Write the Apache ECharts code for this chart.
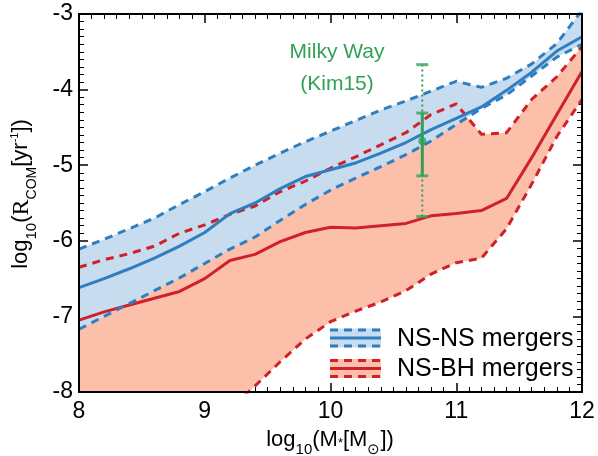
<!DOCTYPE html>
<html>
<head>
<meta charset="utf-8">
<script src="https://cdn.jsdelivr.net/npm/echarts@6/dist/echarts.min.js"></script>
<style>html,body{margin:0;padding:0;background:#fff;}#c{width:598px;height:456px;}</style>
</head>
<body>
<div id="c"></div>
<script>
// ---- data ----
var logMass = [8.0, 8.2, 8.4, 8.6, 8.8, 9.0, 9.2, 9.4, 9.6, 9.8, 10.0, 10.2, 10.4, 10.6, 10.8, 11.0, 11.2, 11.4, 11.6, 11.8, 12.0];
var nsnsUpper  = [-6.11, -5.98, -5.84, -5.70, -5.52, -5.35, -5.17, -5.00, -4.84, -4.69, -4.55, -4.41, -4.27, -4.15, -4.02, -3.89, -3.97, -3.85, -3.66, -3.39, -2.95];
var nsnsMedian = [-6.62, -6.50, -6.37, -6.23, -6.07, -5.89, -5.64, -5.50, -5.31, -5.15, -5.06, -4.97, -4.84, -4.70, -4.53, -4.38, -4.23, -4.01, -3.77, -3.49, -3.30];
var nsnsLower  = [-7.17, -7.00, -6.83, -6.66, -6.49, -6.30, -6.11, -5.95, -5.73, -5.52, -5.33, -5.17, -5.02, -4.86, -4.68, -4.46, -4.25, -4.07, -3.82, -3.57, -3.40];
var nsbhUpper  = [-6.35, -6.25, -6.17, -6.07, -5.90, -5.79, -5.65, -5.54, -5.35, -5.21, -5.04, -4.89, -4.73, -4.57, -4.33, -4.19, -4.59, -4.57, -4.13, -3.83, -3.43];
var nsbhMedian = [-7.05, -6.94, -6.85, -6.76, -6.67, -6.50, -6.26, -6.18, -6.01, -5.89, -5.82, -5.83, -5.80, -5.77, -5.67, -5.64, -5.60, -5.44, -4.90, -4.33, -3.76];
var nsbhLower  = [-10.3, -9.9, -9.5, -9.1, -8.8, -8.5, -8.22, -7.92, -7.60, -7.30, -7.07, -6.93, -6.81, -6.66, -6.44, -6.29, -6.23, -5.84, -5.25, -4.62, -4.13];
// Milky Way (Kim15) estimate
var mwMass = 10.73;
var mwRate = -4.68;
var mwErr = [-5.14, -4.31];
var mwRange = [-5.68, -3.67];
var xTicks = [8, 12, 1];
var yTicks = [-8, -3, 1];

// ---- styling ----
var FONT = '"Liberation Sans", Arial, Helvetica, sans-serif';
var BLUE = '#2f7ec0', BLUE_FILL = '#c8dcef';
var RED = '#d0202a', RED_FILL = '#fcc0aa';
var GREEN = '#33a155';

function pairs(xs, ys) { return xs.map(function (x, i) { return [x, ys[i]]; }); }

function bandSeries(lower, upper, fill) {
  return {
    type: 'custom', clip: true, silent: true, z: 1, animation: false,
    data: logMass.map(function (x, i) { return [x, lower[i], upper[i]]; }),
    encode: { x: 0, y: [1, 2] },
    renderItem: function (params, api) {
      if (params.dataIndex !== 0) return null;
      var pts = [], i;
      for (i = 0; i < logMass.length; i++) pts.push(api.coord([logMass[i], upper[i]]));
      for (i = logMass.length - 1; i >= 0; i--) pts.push(api.coord([logMass[i], lower[i]]));
      var cs = params.coordSys;
      return {
        type: 'polygon',
        shape: { points: pts },
        style: { fill: fill, stroke: null },
        clipPath: { type: 'rect', shape: { x: cs.x, y: cs.y, width: cs.width, height: cs.height } }
      };
    }
  };
}
function lineSeries(ys, color, dashed, z) {
  return { type: 'line', data: pairs(logMass, ys), symbol: 'none', z: z || 3, animation: false, silent: true,
    lineStyle: { color: color, width: 3, type: dashed ? [8, 6] : 'solid', cap: 'butt', join: 'round' } };
}

function xAxisCfg(pos, showLabel) {
  return { type: 'value', position: pos, min: xTicks[0], max: xTicks[1], interval: xTicks[2],
    axisLine: { show: false }, splitLine: { show: false },
    axisTick: { inside: true, length: 9, lineStyle: { color: '#000', width: 1.5 } },
    minorTick: { show: true, splitNumber: 10, length: 5, lineStyle: { color: '#000', width: 1 } },
    axisLabel: { show: showLabel, color: '#000', fontSize: 23, fontFamily: FONT, margin: 8 } };
}
function yAxisCfg(pos, showLabel) {
  return { type: 'value', position: pos, min: yTicks[0], max: yTicks[1], interval: yTicks[2],
    axisLine: { show: false }, splitLine: { show: false },
    axisTick: { inside: true, length: 9, lineStyle: { color: '#000', width: 1.5 } },
    minorTick: { show: true, splitNumber: 10, length: 5, lineStyle: { color: '#000', width: 1 } },
    axisLabel: { show: showLabel, color: '#000', fontSize: 23, fontFamily: FONT, margin: 6 } };
}

var series = [
  bandSeries(nsbhLower, nsbhUpper, RED_FILL),
  bandSeries(nsnsLower, nsnsUpper, BLUE_FILL),
  lineSeries(nsbhLower, RED, true),
  lineSeries(nsbhUpper, RED, true),
  lineSeries(nsbhMedian, RED, false),
  lineSeries(nsnsLower, BLUE, true),
  lineSeries(nsnsUpper, BLUE, true),
  lineSeries(nsnsMedian, BLUE, false),
  { type: 'line', data: [[mwMass, mwRange[0]], [mwMass, mwRange[1]]], symbol: 'none', z: 5, animation: false, silent: true,
    lineStyle: { color: GREEN, width: 2, type: [2, 3] } },
  { type: 'line', data: [[mwMass, mwErr[0]], [mwMass, mwErr[1]]], symbol: 'none', z: 5, animation: false, silent: true,
    lineStyle: { color: GREEN, width: 3 } },
  { type: 'scatter', data: [[mwMass, mwRange[0]], [mwMass, mwRange[1]], [mwMass, mwErr[0]], [mwMass, mwErr[1]]],
    symbol: 'rect', symbolSize: [12, 3], itemStyle: { color: GREEN }, z: 6, animation: false, silent: true },
  { type: 'scatter', data: [[mwMass, mwRate]], symbol: 'circle', symbolSize: 8, itemStyle: { color: GREEN }, z: 6, animation: false, silent: true }
];

function legendItem(y, color, fill, label) {
  var x0 = 330, x1 = 381, h = 19;
  return [
    { type: 'rect', shape: { x: x0, y: y - h / 2, width: x1 - x0, height: h }, style: { fill: fill }, z: 20 },
    { type: 'line', shape: { x1: x0, y1: y - h / 2 + 1.5, x2: x1, y2: y - h / 2 + 1.5 }, style: { stroke: color, lineWidth: 3, lineDash: [8, 6] }, z: 21 },
    { type: 'line', shape: { x1: x0, y1: y + h / 2 - 1.5, x2: x1, y2: y + h / 2 - 1.5 }, style: { stroke: color, lineWidth: 3, lineDash: [8, 6] }, z: 21 },
    { type: 'line', shape: { x1: x0, y1: y, x2: x1, y2: y }, style: { stroke: color, lineWidth: 3 }, z: 21 },
    { type: 'text', x: 397, y: y + 1, style: { text: label, fill: '#000', fontSize: 25, fontFamily: FONT, align: 'left', verticalAlign: 'middle' }, z: 21 }
  ];
}

// main + superscript tokens top-aligned, subscripts bottom-aligned within the line
function tok(size, va, lh, fam) {
  return { fontSize: size, fontFamily: fam || FONT, lineHeight: lh, verticalAlign: va, fill: '#000', color: '#000' };
}
var richX = { a: tok(22, 'top', 28), s: tok(15, 'bottom', 28), st: tok(13, 'middle', 28) };
var richY = { a: tok(22, 'top', 30), r: tok(24, 'top', 30, '"Liberation Serif", "Times New Roman", serif'),
  s: tok(15, 'bottom', 30), c: tok(14, 'bottom', 30), p: tok(11, 'top', 30) };

var graphics = [
  { type: 'text', x: 337, y: 52, style: { text: 'Milky Way', fill: GREEN, fontSize: 21, fontFamily: FONT, align: 'center', verticalAlign: 'middle' }, z: 20 },
  { type: 'text', x: 337, y: 84, style: { text: '(Kim15)', fill: GREEN, fontSize: 21, fontFamily: FONT, align: 'center', verticalAlign: 'middle' }, z: 20 },
  { type: 'text', x: 330, y: 429, style: { text: '{a|log}{s|10}{a|(M}{st|*}{a|[M}{s|⊙}{a|])}', rich: richX, align: 'center', verticalAlign: 'top' }, z: 20 },
  { type: 'text', x: 9.5, y: 194, rotation: Math.PI / 2, style: { text: '{a|log}{s|10}{a|(}{r|R}{c|COM}{a|[yr}{p|-1}{a|])}', rich: richY, align: 'center', verticalAlign: 'top' }, z: 20 }
].concat(legendItem(338, BLUE, BLUE_FILL, 'NS-NS mergers'))
 .concat(legendItem(368.5, RED, RED_FILL, 'NS-BH mergers'));

var chart = echarts.init(document.getElementById('c'), null, { renderer: 'canvas' });
chart.setOption({
  animation: false,
  backgroundColor: '#fff',
  grid: { left: 79, right: 16, top: 14, bottom: 64, show: true, borderColor: '#000', borderWidth: 2,
    backgroundColor: 'rgba(0,0,0,0)', z: 10 },
  xAxis: [xAxisCfg('bottom', true), xAxisCfg('top', false)],
  yAxis: [yAxisCfg('left', true), yAxisCfg('right', false)],
  series: series,
  graphic: graphics
});
</script>
</body>
</html>
